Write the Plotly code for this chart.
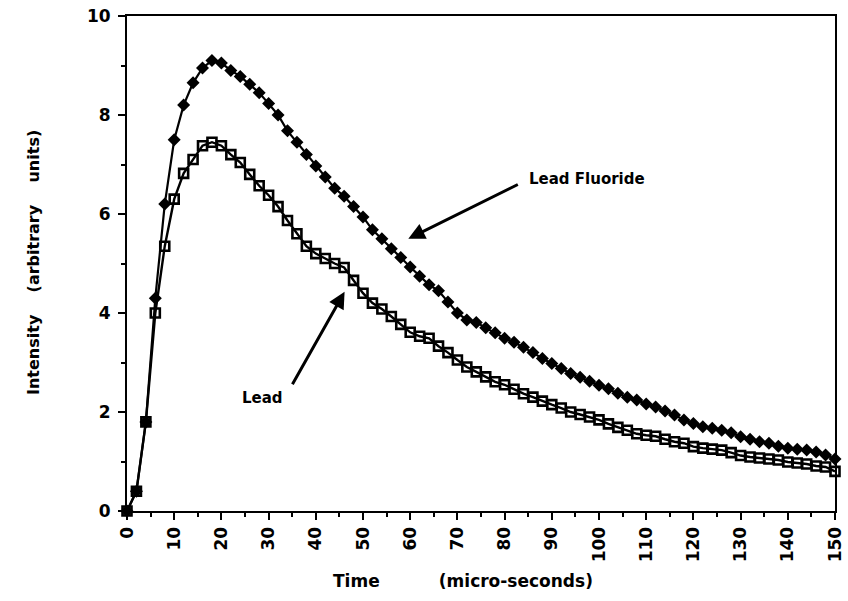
import plotly.graph_objects as go

time_us = list(range(0, 151, 2))

lead_fluoride = [
    0.0, 0.4, 1.8, 4.3, 6.2, 7.5, 8.2, 8.65, 8.95, 9.1,
    9.05, 8.9, 8.78, 8.62, 8.45, 8.23, 8.0, 7.68, 7.45, 7.2,
    6.97, 6.75, 6.52, 6.36, 6.15, 5.94, 5.68, 5.5, 5.3, 5.12,
    4.93, 4.74, 4.57, 4.45, 4.22, 4.0, 3.86, 3.81, 3.7, 3.6,
    3.49, 3.41, 3.31, 3.2, 3.08, 2.98, 2.88, 2.78, 2.7, 2.62,
    2.54, 2.47, 2.38, 2.3, 2.24, 2.16, 2.1, 2.02, 1.94, 1.84,
    1.77, 1.7, 1.67, 1.63, 1.58, 1.5, 1.45, 1.4, 1.37, 1.31,
    1.27, 1.25, 1.23, 1.19, 1.13, 1.05,
]

lead = [
    0.0, 0.4, 1.8, 4.0, 5.35, 6.3, 6.82, 7.1, 7.38, 7.45,
    7.38, 7.2, 7.04, 6.8, 6.57, 6.38, 6.15, 5.87, 5.6, 5.35,
    5.2, 5.1, 5.0, 4.92, 4.66, 4.4, 4.2, 4.08, 3.93, 3.77,
    3.61, 3.53, 3.49, 3.33, 3.2, 3.05, 2.91, 2.81, 2.71, 2.61,
    2.55, 2.46, 2.37, 2.3, 2.22, 2.15, 2.08, 2.0, 1.95, 1.9,
    1.84, 1.76, 1.69, 1.63, 1.56, 1.53, 1.51, 1.45, 1.4, 1.37,
    1.3, 1.27, 1.25, 1.23, 1.18, 1.12, 1.09, 1.07, 1.05, 1.03,
    0.99, 0.97, 0.95, 0.91, 0.89, 0.8,
]

x_ticks = list(range(0, 151, 10))
y_ticks = [0, 2, 4, 6, 8, 10]

FONT = "DejaVu Sans, Arial, sans-serif"

# figure geometry (page body margin removed by post_script)
W, H = 848, 601
L, R, T, B = 127, 13, 16, 90
PW, PH = W - L - R, H - T - B


def px_x(p):
    return (p - L) / PW


def px_y(p):
    return (H - B - p) / PH


fig = go.Figure()
fig.add_trace(go.Scatter(
    x=time_us, y=lead, mode="lines+markers", name="Lead",
    line=dict(color="black", width=2.4),
    marker=dict(symbol="square-open", size=9, color="black",
                line=dict(width=2.6, color="black")),
    cliponaxis=False,
))
fig.add_trace(go.Scatter(
    x=time_us, y=lead_fluoride, mode="lines+markers", name="Lead Fluoride",
    line=dict(color="black", width=2.2),
    marker=dict(symbol="diamond", size=10, color="black"),
    cliponaxis=False,
))

axis_common = dict(
    showgrid=False, zeroline=False, showline=True, linecolor="black",
    linewidth=2, mirror=True, ticks="outside", tickcolor="black",
    tickwidth=2, ticklen=7, ticklabeloverflow="allow", automargin=False,
    tickfont=dict(family=FONT, size=17, color="black", weight="bold"),
)

fig.update_xaxes(range=[0, 150], tickvals=x_ticks, tickangle=-90,
                 minor=dict(dtick=5, ticks="outside", ticklen=4,
                            tickwidth=2, tickcolor="black"),
                 **axis_common)
fig.update_yaxes(range=[0, 10], tickvals=y_ticks, ticklabelstandoff=4,
                 minor=dict(dtick=1, ticks="outside", ticklen=4,
                            tickwidth=2, tickcolor="black"),
                 **axis_common)

ann_font = dict(family=FONT, size=15, color="black", weight="bold")

# arrows (empty text so the arrow starts exactly at the tail)
fig.add_annotation(x=59.6, y=5.5, ax=111, ay=-55, text="", showarrow=True,
                   arrowhead=2, arrowsize=1.1, arrowwidth=3,
                   arrowcolor="black", standoff=0, startstandoff=0)
fig.add_annotation(x=46.1, y=4.43, ax=-53, ay=94, text="", showarrow=True,
                   arrowhead=2, arrowsize=1.1, arrowwidth=3,
                   arrowcolor="black", standoff=0, startstandoff=0)

fig.add_annotation(x=97.5, y=6.71, text="Lead Fluoride", showarrow=False,
                   font=ann_font)
fig.add_annotation(x=28.7, y=2.29, text="Lead", showarrow=False, font=ann_font)

title_font = dict(family=FONT, size=17, color="black", weight="bold")
fig.add_annotation(xref="paper", yref="paper", x=px_x(463), y=px_y(581),
                   text="Time" + "\u00a0" * 10 + "(micro-seconds)",
                   showarrow=False, font=title_font, yanchor="middle")
fig.add_annotation(xref="paper", yref="paper", x=px_x(33), y=px_y(263),
                   text="Intensity" + "\u00a0" * 4 + "(arbitrary" + "\u00a0" * 4 + "units)",
                   showarrow=False, font=dict(family=FONT, size=16, color="black", weight="bold"),
                   textangle=-90, xanchor="center", yanchor="middle")

fig.update_layout(
    width=W, height=H,
    margin=dict(l=L, r=R, t=T, b=B),
    paper_bgcolor="white", plot_bgcolor="white",
    showlegend=False,
)

fig.write_html("out.html",
               config={"displayModeBar": False},
               post_script="document.body.style.margin='0px';"
                           "document.body.style.overflow='hidden';")
